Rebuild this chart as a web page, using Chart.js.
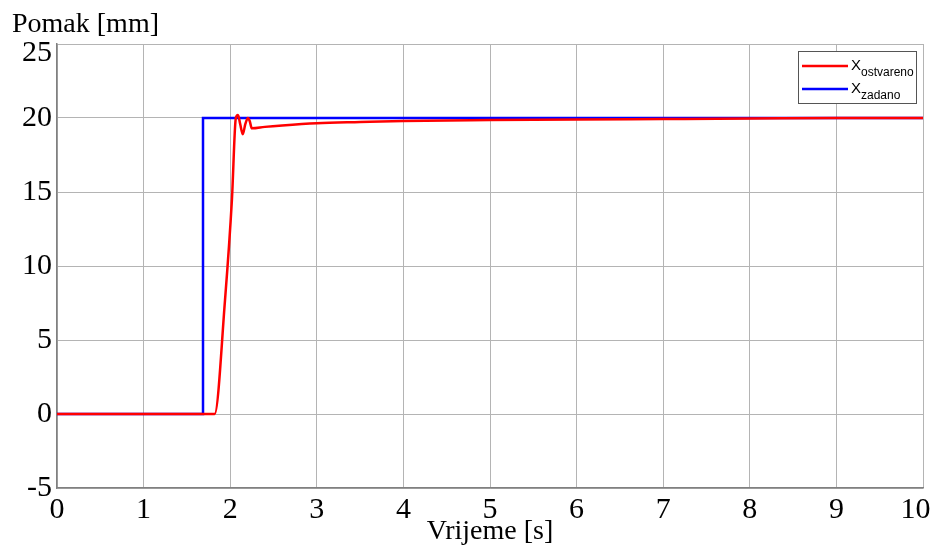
<!DOCTYPE html>
<html>
<head>
<meta charset="utf-8">
<script src="https://cdn.jsdelivr.net/npm/chart.js@4.4.0/dist/chart.umd.min.js"></script>
<style>
  html, body { margin: 0; padding: 0; background: #fff; }
  #wrap { width: 934px; height: 546px; }
</style>
</head>
<body>
<div id="wrap"><canvas id="chartCanvas" width="934" height="546"></canvas></div>
<script>
"use strict";

// zadano: step reference
const zadanoT = [0, 1.686, 1.686, 10];
const zadanoX = [0, 0, 20, 20];

// ostvareno: measured response
const ostvarenoT = [0, 1.82, 1.94, 2.02, 2.065, 2.09, 2.115, 2.145, 2.175, 2.205, 2.225, 2.25, 2.4, 2.6, 3.0, 3.5, 4.0, 5.0, 6.0, 7.0, 8.0, 9.0, 10.0];
const ostvarenoX = [0, 0, 7.7, 14.5, 20.0, 20.2, 19.6, 18.9, 19.6, 20.0, 19.8, 19.3, 19.4, 19.5, 19.65, 19.73, 19.8, 19.86, 19.9, 19.93, 19.96, 20.0, 20.0];

const xTicks = [0, 1, 2, 3, 4, 5, 6, 7, 8, 9, 10];
const yTicks = [-5, 0, 5, 10, 15, 20, 25];

const serif = "'Liberation Serif', 'Times New Roman', serif";
const gridColor = '#b4b4b4';
const boxColor = '#808080';

function pts(xs, ys) {
    return xs.map((x, i) => ({ x: x, y: ys[i] }));
}

// titles and legend with subscripts, drawn on top
const decor = {
    id: 'decor',
    afterDraw(chart) {
        const c = chart.ctx;
        const a = chart.chartArea;
        const ys = chart.scales.y;
        c.save();
        c.fillStyle = '#000';
        c.font = '28px ' + serif;
        c.textBaseline = 'alphabetic';
        c.textAlign = 'left';
        c.fillText('Pomak [mm]', 12, 32);
        c.textAlign = 'center';
        c.fillText('Vrijeme [s]', (a.left + a.right) / 2, 539);

        // top y label sits a bit lower, under the title
        const top = yTicks[yTicks.length - 1];
        c.font = '30px ' + serif;
        c.textAlign = 'right';
        c.textBaseline = 'middle';
        c.fillText(String(top), a.left - 5, ys.getPixelForValue(top) + 9);

        // legend box
        const bx = 798, by = 51, bw = 118, bh = 52;
        c.textBaseline = 'alphabetic';
        c.fillStyle = '#fff';
        c.fillRect(bx, by, bw, bh);
        c.strokeStyle = '#555';
        c.lineWidth = 1;
        c.strokeRect(bx + 0.5, by + 0.5, bw, bh);
        const rows = [
            { color: '#ff0000', sub: 'ostvareno', y: 66 },
            { color: '#0000ff', sub: 'zadano', y: 89 }
        ];
        rows.forEach(r => {
            c.strokeStyle = r.color;
            c.lineWidth = 2.5;
            c.beginPath();
            c.moveTo(802, r.y);
            c.lineTo(848, r.y);
            c.stroke();
            c.fillStyle = '#000';
            c.textAlign = 'left';
            c.font = '15px "Liberation Sans", Arial, sans-serif';
            c.fillText('X', 851, r.y + 4);
            c.font = '12px "Liberation Sans", Arial, sans-serif';
            c.fillText(r.sub, 861, r.y + 10);
        });
        c.restore();
    }
};

const ctx = document.getElementById('chartCanvas');

new Chart(ctx, {
    type: 'line',
    data: {
        datasets: [{
            label: 'ostvareno',
            data: pts(ostvarenoT, ostvarenoX),
            borderColor: '#ff0000',
            borderWidth: 2.5,
            pointRadius: 0,
            fill: false,
            cubicInterpolationMode: 'monotone'
        },
        {
            label: 'zadano',
            data: pts(zadanoT, zadanoX),
            borderColor: '#0000ff',
            borderWidth: 2.5,
            pointRadius: 0,
            fill: false,
            tension: 0
        }]
    },
    options: {
        responsive: false,
        animation: false,
        events: [],
        layout: { padding: { left: 0, right: 11, top: 44, bottom: 0 } },
        plugins: {
            legend: { display: false },
            tooltip: { enabled: false }
        },
        scales: {
            x: {
                type: 'linear',
                min: 0,
                max: 10,
                afterBuildTicks: s => { s.ticks = xTicks.map(v => ({ value: v })); },
                afterFit: s => { s.height = 58; s.paddingLeft = 0; s.paddingRight = 0; },
                grid: { color: gridColor, lineWidth: 1, drawTicks: false },
                border: { color: boxColor, width: 1.5 },
                ticks: {
                    color: '#000',
                    font: { family: serif, size: 30 },
                    padding: 4,
                    maxRotation: 0,
                    // last label pulled in so it stays inside the canvas
                    callback: v => (v === xTicks[xTicks.length - 1] ? v + '\u2002' : String(v))
                }
            },
            y: {
                type: 'linear',
                min: -5,
                max: 25,
                afterBuildTicks: s => { s.ticks = yTicks.map(v => ({ value: v })); },
                afterFit: s => { s.width = 57; s.paddingTop = 0; s.paddingBottom = 0; },
                grid: { color: gridColor, lineWidth: 1, drawTicks: false },
                border: { color: boxColor, width: 1.5 },
                ticks: {
                    color: '#000',
                    font: { family: serif, size: 30 },
                    padding: 5,
                    callback: v => (v === yTicks[yTicks.length - 1] ? '' : String(v))
                }
            }
        }
    },
    plugins: [decor]
});
</script>
</body>
</html>
